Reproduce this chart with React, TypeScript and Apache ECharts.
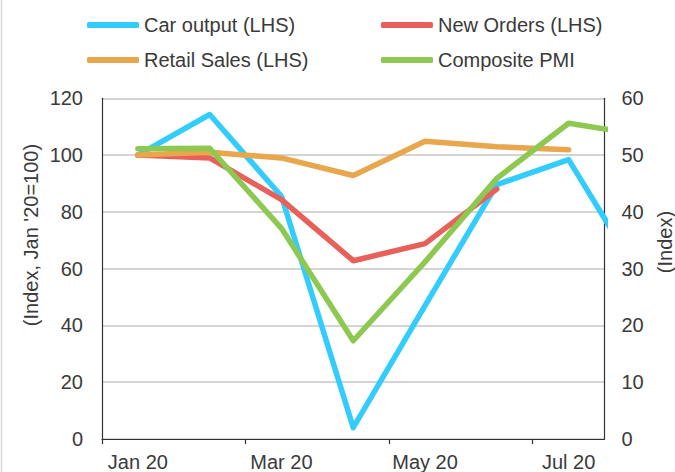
import React, { useEffect, useRef } from "react";
import * as echarts from "echarts";

const months = ["Jan 20", "Feb 20", "Mar 20", "Apr 20", "May 20", "Jun 20", "Jul 20", "Aug 20"];
const carOutput = [100, 114.3, 85.5, 4, 47, 89.6, 98.4, 57];
const newOrders = [100, 99, 84.3, 62.8, 68.8, 88, null, null];
const retailSales = [100, 101, 99, 92.8, 104.9, 102.9, 101.9, null];
const compositePMI = [51.1, 51.2, 37.1, 17.3, 31.2, 45.9, 55.6, 53.6];
const leftTicks = { min: 0, max: 120, interval: 20 };
const rightTicks = { min: 0, max: 60, interval: 10 };
const xLabelIdx = [0, 2, 4, 6];
const xTickPos = [-0.5, 1.5, 3.5, 5.5];

const FONT = '"Liberation Sans", Arial, sans-serif';
const TXT = "#3A3A3A";

const toPairs = (arr: (number | null)[]) =>
  arr.map((v, i) => (v == null ? null : [i, v])).filter((d) => d !== null);

export default function App() {
  const ref = useRef<HTMLDivElement>(null);
  useEffect(() => {
    if (!ref.current) return;
    const chart = echarts.init(ref.current, undefined, { renderer: "svg" });
    const lineSeries = (name: string, data: (number | null)[], color: string, yIdx: number) => ({
      name,
      type: "line",
      yAxisIndex: yIdx,
      data: toPairs(data),
      symbol: "none",
      clip: true,
      lineStyle: { color, width: 5.5, cap: "round", join: "round" },
      itemStyle: { color },
    });
    const legendBase = {
      orient: "horizontal",
      padding: 0,
      icon: "roundRect",
      itemWidth: 52,
      itemHeight: 6,
      textStyle: { fontSize: 20, fontFamily: FONT, color: TXT },
    };
    chart.setOption({
      animation: false,
      backgroundColor: "#fff",
      textStyle: { fontFamily: FONT },
      legend: [
        { ...legendBase, data: ["Car output (LHS)"], left: 87, top: 15 },
        { ...legendBase, data: ["New Orders (LHS)"], left: 381, top: 15 },
        { ...legendBase, data: ["Retail Sales (LHS)"], left: 87, top: 50 },
        { ...legendBase, data: ["Composite PMI"], left: 381, top: 50 },
      ],
      grid: { left: 102, top: 98.3, width: 502.5, height: 341.2, containLabel: false },
      xAxis: {
        type: "value",
        min: -0.5,
        max: 6.5,
        axisLine: { show: true, onZero: false, lineStyle: { color: "#333", width: 1.2 } },
        axisTick: { show: true, customValues: xTickPos, length: 5, lineStyle: { color: "#333", width: 1.2 } },
        axisLabel: {
          customValues: xLabelIdx,
          formatter: (v: number) => months[Math.round(v)] ?? "",
          fontSize: 20,
          fontFamily: FONT,
          color: TXT,
          margin: 13,
        },
        splitLine: { show: false },
      },
      yAxis: [
        {
          type: "value",
          ...leftTicks,
          position: "left",
          axisLine: { show: true, onZero: false, lineStyle: { color: "#333", width: 1.2 } },
          axisTick: { show: false },
          axisLabel: { fontSize: 20, fontFamily: FONT, color: TXT, margin: 19 },
          splitLine: { show: true, lineStyle: { color: "#C6C6C6", width: 1.5 } },
        },
        {
          type: "value",
          ...rightTicks,
          position: "right",
          axisLine: { show: true, onZero: false, lineStyle: { color: "#333", width: 1.2 } },
          axisTick: { show: false },
          axisLabel: { fontSize: 20, fontFamily: FONT, color: TXT, margin: 17 },
          splitLine: { show: false },
        },
      ],
      series: [
        lineSeries("Car output (LHS)", carOutput, "#33CCFF", 0),
        lineSeries("New Orders (LHS)", newOrders, "#E8605A", 0),
        lineSeries("Retail Sales (LHS)", retailSales, "#E8A64D", 0),
        lineSeries("Composite PMI", compositePMI, "#8DC851", 1),
      ],
      graphic: [
        {
          type: "text",
          x: 31,
          y: 235,
          rotation: Math.PI / 2,
          style: {
            text: "(Index, Jan '20=100)",
            font: `20px ${FONT}`,
            fill: TXT,
            align: "center",
            verticalAlign: "middle",
          },
        },
        {
          type: "text",
          x: 665,
          y: 242,
          rotation: Math.PI / 2,
          style: {
            text: "(Index)",
            font: `20px ${FONT}`,
            fill: TXT,
            align: "center",
            verticalAlign: "middle",
          },
        },
        {
          type: "line",
          shape: { x1: 1.5, y1: 0, x2: 1.5, y2: 472 },
          style: { stroke: "#D9D9D9", lineWidth: 1.5 },
        },
      ],
    });
    return () => chart.dispose();
  }, []);
  return (
    <div
      ref={ref}
      style={{ position: "fixed", left: 0, top: 0, width: 675, height: 472 }}
    />
  );
}
